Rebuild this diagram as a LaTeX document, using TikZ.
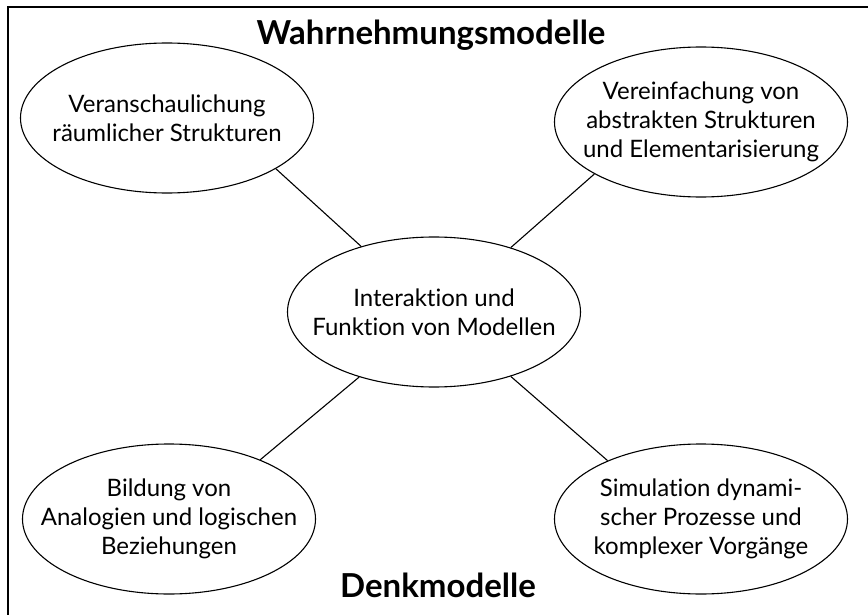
\documentclass[tikz,border=0pt]{standalone}
\usepackage{fontspec}
\setmainfont[RawFeature={-liga;-dlig;-clig}]{Lato}
\usetikzlibrary{shapes.geometric}

\begin{document}
\begin{tikzpicture}[x=1pt,y=-1pt,
  modell/.style={draw,ellipse,line width=1.1pt,minimum width=293pt,
    minimum height=150pt,inner xsep=-30pt,inner ysep=0pt,align=center,
    font=\fontsize{24}{29}\selectfont},
  titel/.style={font=\bfseries\fontsize{33}{36}\selectfont},
  verbindung/.style={line width=1.1pt}]

\useasboundingbox (0,0) rectangle (868,615);

% Rahmen (rechts und unten abgeschnitten)
\draw[line width=1.5pt] (8,630) -- (8,7) -- (880,7);

% Ueberschriften
\node[titel,anchor=base] (wahr) at (431,45) {Wahrnehmungsmodelle};
\node[titel,anchor=base] (denk) at (438,597) {Denkmodelle};

% Ellipsen
\node[modell] (mitte) at (434,312) {Interaktion und\\Funktion von Modellen};
\node[modell] (ol) at (167,118) {Veranschaulichung\\räumlicher Strukturen};
\node[modell] (or) at (701,122) {Vereinfachung von\\abstrakten Strukturen\\und Elementarisierung};
\node[modell] (ul) at (169,519) {Bildung von\\Analogien und logischen\\Beziehungen};
\node[modell] (ur) at (701,519) {Simulation dynami-\\scher Prozesse und\\komplexer Vorgänge};

% Verbindungen
\draw[verbindung] (ol.-25) -- (mitte.138);
\draw[verbindung] (or.206) -- (mitte.40);
\draw[verbindung] (ul.33) -- (mitte.221);
\draw[verbindung] (ur.148) -- (mitte.-40);

\end{tikzpicture}
\end{document}
